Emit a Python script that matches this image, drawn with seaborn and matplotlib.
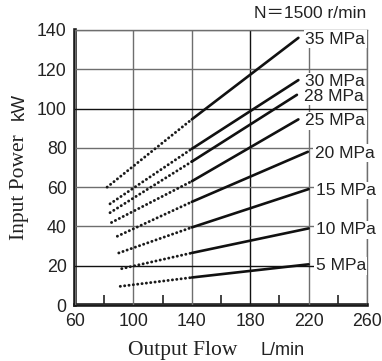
import matplotlib
matplotlib.use("Agg")
import matplotlib.pyplot as plt
import seaborn as sns
import pandas as pd

# ---- data ----
pressures = [35, 30, 28, 25, 20, 15, 10, 5]
labels = ["35 MPa", "30 MPa", "28 MPa", "25 MPa", "20 MPa", "15 MPa", "10 MPa", "5 MPa"]
dot_x0 = [82, 84, 84, 85, 89, 90, 92, 91]
dot_y0 = [60, 51.5, 47, 42, 35, 26.5, 18.5, 9.5]
x_mid = 140
y_mid = [94.5, 79.5, 73, 63, 52.5, 39.5, 26.5, 14]
x_end = [213, 213, 212, 213, 219.5, 220, 220, 220]
y_end = [136, 114.5, 107, 94.5, 78, 59, 39, 20.7]
x_ticks = [60, 100, 140, 180, 220, 260]
x_minor = [80, 120, 160, 200, 240]
y_ticks = [0, 20, 40, 60, 80, 100, 120, 140]
speed_note = "N\uff1d1500 r/min"

rows = []
for p, x0, y0, ym, xe, ye in zip(pressures, dot_x0, dot_y0, y_mid, x_end, y_end):
    rows.append(dict(p=p, seg="dot", x=x0, y=y0))
    rows.append(dict(p=p, seg="dot", x=x_mid, y=ym))
    rows.append(dict(p=p, seg="solid", x=x_mid, y=ym))
    rows.append(dict(p=p, seg="solid", x=xe, y=ye))
df = pd.DataFrame(rows)

sns.set_style("ticks")
plt.rcParams["font.family"] = ["Liberation Sans", "Noto Sans CJK JP", "DejaVu Sans"]

fig = plt.figure(figsize=(3.82, 3.61), dpi=100)
ax = fig.add_axes([75 / 382, 1 - 305 / 361, 292 / 382, 275 / 361])
ax.set_axisbelow(False)

for p in pressures:
    d = df[(df.p == p) & (df.seg == "dot")]
    sns.lineplot(data=d, x="x", y="y", ax=ax, color="#1a1a1a", lw=2.1,
                 linestyle=(0, (0.05, 1.45)), dash_capstyle="round",
                 legend=False, zorder=4, sort=False)
    s = df[(df.p == p) & (df.seg == "solid")]
    sns.lineplot(data=s, x="x", y="y", ax=ax, color="#111111", lw=1.9,
                 legend=False, zorder=4, sort=False)

for lab, xe, ye in zip(labels, x_end, y_end):
    ax.annotate(lab, (xe, ye), xytext=(5, -1), textcoords="offset points",
                ha="left", va="center", fontsize=12.5, color="#222222",
                bbox=dict(boxstyle="square,pad=0.08", fc="white", ec="none"),
                zorder=6)

ax.set_xlim(60, 260)
ax.set_ylim(0, 140)
ax.set_xticks(x_ticks)
ax.set_yticks(y_ticks)
ax.set_xticks(x_minor, minor=True)
ax.tick_params(axis="both", which="major", length=0, labelsize=12.8,
               colors="#222222", pad=6)
ax.tick_params(axis="x", which="minor", direction="in", length=7, width=1.2,
               color="#222222", bottom=True, top=False)
ax.set_xlabel("")
ax.set_ylabel("")

ax.grid(True, which="major", color="#6e6e6e", lw=1.0, zorder=1)
ax.grid(False, which="minor")
for t, gl in zip(ax.get_yticks(), ax.yaxis.get_gridlines()):
    if t in (20, 100):
        gl.set_color("#111111")
for t, gl in zip(ax.get_xticks(), ax.xaxis.get_gridlines()):
    if t == 180:
        gl.set_color("#111111")

for side in ("left", "bottom"):
    ax.spines[side].set_linewidth(2.6)
    ax.spines[side].set_color("#1a1a1a")
for side in ("top", "right"):
    ax.spines[side].set_visible(True)
    ax.spines[side].set_linewidth(1.0)
    ax.spines[side].set_color("#6e6e6e")

# axis titles (serif words + sans units)
fig.text(24 / 382, 1 - 187 / 361, "Input Power", family="Liberation Serif",
         fontsize=15.5, rotation=90, rotation_mode="anchor",
         ha="center", va="baseline", color="#222222")
fig.text(24 / 382, 1 - 106 / 361, "kW", fontsize=13.5, rotation=90,
         rotation_mode="anchor", ha="center", va="baseline", color="#222222")
fig.text(128 / 382, 1 - 355 / 361, "Output Flow", family="Liberation Serif",
         fontsize=15.5, ha="left", va="baseline", color="#222222")
fig.text(260 / 382, 1 - 355 / 361, "L/min", fontsize=13,
         ha="left", va="baseline", color="#222222")
fig.text(366 / 382, 1 - 18 / 361, speed_note, fontsize=12.5,
         ha="right", va="baseline", color="#222222",
         family=["Liberation Sans", "Noto Sans CJK JP"])

fig.savefig("out.png", dpi=100)
